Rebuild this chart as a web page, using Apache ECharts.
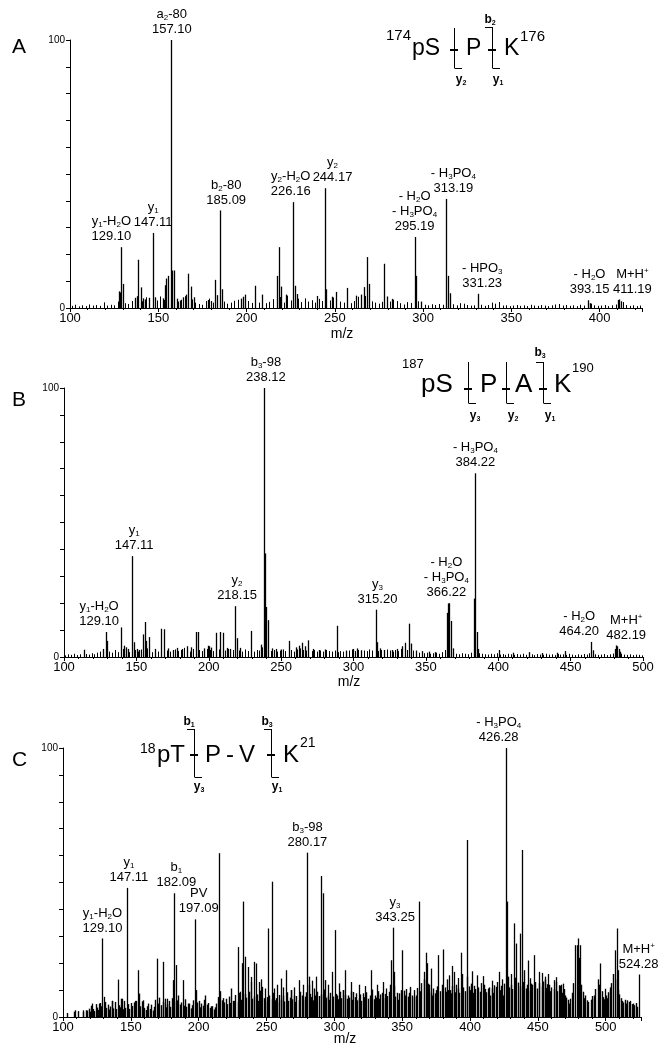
<!DOCTYPE html>
<html>
<head>
<meta charset="utf-8">
<script src="https://cdn.jsdelivr.net/npm/echarts@6/dist/echarts.min.js"></script>
<style>
  html, body { margin: 0; background: #fff; }
  #chart { width: 664px; height: 1050px; }
</style>
</head>
<body>
<div id="chart"></div>
<script>
// ---------- data (m/z, relative intensity %) ----------
// panel A: 174pS-P-K176
const peaksA = [[127.5,6.2],[128.2,5.8],[129.1,22.7],[130.1,9.0],[136.6,3.8],[137.8,4.4],[138.8,18.0],[140.1,7.7],[141.5,3.6],[142.3,3.2],[144.9,3.8],[147.11,28.0],[148.1,4.0],[152.6,3.6],[153.9,8.5],[154.6,11.0],[155.5,12.0],[157.1,100],[158.0,14.0],[158.9,14.0],[160.4,3.5],[162.5,2.8],[164.1,4.0],[165.5,5.0],[166.6,12.8],[168.6,8.0],[170.0,4.0],[178.1,3.0],[179.6,2.6],[182.4,10.5],[183.3,4.8],[185.09,36.4],[186.1,7.0],[196.6,3.5],[197.8,4.2],[199.1,5.0],[204.6,8.3],[208.6,5.0],[217.1,12.0],[218.2,22.7],[219.3,8.0],[222.6,5.0],[226.16,39.5],[227.2,8.3],[228.3,5.2],[240.1,4.5],[244.17,44.7],[245.2,7.0],[248.5,4.2],[250.8,6.0],[256.9,7.5],[262.2,4.6],[264.6,5.0],[266.3,7.8],[268.5,19.0],[269.6,9.0],[278.0,16.5],[279.3,4.3],[282.6,3.4],[295.19,26.5],[296.2,12.0],[298.6,2.4],[313.19,40.7],[314.1,12.0],[315.1,5.5],[331.23,5.3],[393.15,2.9],[394.6,1.8],[410.4,3.0],[411.19,3.2],[412.3,2.5]];
const noiseA = [[101,0.8],[103,1.2],[105,0.6],[107,1.0],[109,0.7],[111,1.3],[113,0.9],[115,1.1],[117,0.8],[119,2.1],[121,0.9],[123,1.2],[125,1.0],[127,2.4],[131,1.8],[133,1.5],[135,2.6],[137,3.2],[141,2.5],[143,4.0],[145,2.2],[149,2.8],[151,4.3],[153,3.0],[159,3.6],[161,2.4],[163,3.1],[165,4.4],[169,3.2],[171,2.0],[173,1.5],[175,1.2],[177,2.6],[179,3.5],[181,2.0],[183,3.0],[187,2.4],[189,1.6],[191,2.0],[193,2.7],[195,3.1],[197,2.2],[199,3.8],[201,2.6],[203,1.9],[205,2.5],[207,2.0],[209,4.8],[211,1.8],[213,2.3],[215,3.3],[219,4.1],[221,2.0],[223,4.6],[225,2.8],[229,3.5],[231,2.2],[233,3.6],[235,2.4],[237,2.9],[239,2.0],[241,3.4],[243,2.6],[247,2.8],[249,3.9],[253,2.4],[255,2.0],[259,1.8],[261,2.6],[263,4.2],[265,3.1],[267,4.5],[271,2.5],[273,2.0],[275,1.6],[277,2.3],[281,2.4],[283,3.1],[285,2.6],[287,1.8],[289,1.3],[291,2.2],[293,1.9],[297,2.5],[299,1.6],[301,1.2],[303,1.0],[305,1.4],[307,1.1],[309,1.5],[311,1.2],[317,1.4],[319,1.0],[321,1.8],[323,1.6],[325,1.1],[327,0.9],[329,1.0],[333,1.2],[335,0.8],[337,1.1],[339,2.0],[341,1.6],[343,2.2],[345,0.9],[347,1.0],[349,0.7],[351,0.9],[353,1.1],[355,0.8],[357,1.0],[359,0.7],[361,1.2],[363,0.9],[365,0.8],[367,1.1],[369,0.9],[371,0.7],[373,1.0],[375,1.3],[377,1.5],[379,0.9],[381,1.1],[383,0.8],[385,1.0],[387,0.7],[389,1.2],[391,0.9],[395,1.6],[397,1.0],[399,0.8],[401,0.9],[403,1.1],[405,0.7],[407,1.0],[409,1.3],[413,2.2],[415,1.1],[417,0.8],[419,1.0],[421,0.7],[423,0.9]];
const labelMzA = [129.10, 147.11, 157.10, 185.09, 226.16, 244.17, 295.19, 313.19, 331.23, 393.15, 411.19];
const labelTextA = ['y{s|1}-H{s|2}O\n129.10', 'y{s|1}\n147.11', 'a{s|2}-80\n157.10', 'b{s|2}-80\n185.09', 'y{s|2}-H{s|2}O\n226.16', 'y{s|2}\n244.17', '- H{s|2}O\n- H{s|3}PO{s|4}\n295.19', '- H{s|3}PO{s|4}\n313.19', '- HPO{s|3}\n331.23', '- H{s|2}O\n393.15', 'M+H{p|+}\n411.19'];

// panel B: 187pS-P-A-K190
const peaksB = [[113.6,2.7],[126.8,3.0],[129.1,9.3],[130.0,6.0],[139.5,11.0],[141.6,4.2],[142.8,3.6],[144.0,3.0],[147.11,37.5],[148.1,5.5],[150.5,3.0],[152.0,2.6],[154.9,8.4],[155.8,13.0],[156.8,6.0],[158.4,7.4],[163.1,3.0],[166.9,10.5],[169.1,10.3],[171.6,3.2],[175.0,2.6],[178.3,3.4],[181.4,3.0],[185.0,4.0],[187.5,3.6],[191.4,9.3],[192.4,9.3],[196.8,3.2],[199.2,4.2],[200.3,4.0],[201.3,3.5],[205.2,9.0],[207.8,9.3],[209.5,9.0],[212.4,3.4],[214.8,3.0],[218.15,18.9],[219.6,7.0],[221.9,3.4],[229.5,9.7],[235.8,4.6],[238.12,100],[238.9,38.5],[239.7,18.6],[240.6,13.7],[243.5,3.2],[246.8,3.0],[249.6,2.8],[255.3,6.0],[260.3,3.6],[262.5,4.2],[264.6,5.3],[266.2,4.0],[268.8,6.2],[272.2,3.0],[276.4,2.6],[280.4,2.8],[288.6,11.6],[295.0,2.4],[299.8,3.0],[302.4,3.2],[305.0,2.5],[315.2,17.6],[316.2,5.5],[318.6,3.2],[321.4,2.6],[326.7,2.6],[330.2,3.0],[333.2,4.0],[335.4,5.3],[338.3,12.4],[339.5,5.0],[343.4,2.4],[347.6,2.2],[352.2,2.0],[356.6,1.8],[364.5,16.4],[365.4,19.9],[366.22,20.0],[367.1,13.4],[368.4,3.2],[383.5,21.7],[384.22,68.3],[385.1,9.3],[386.3,3.0],[400.2,2.6],[410.5,1.6],[421.3,1.8],[430.2,1.5],[440.3,1.6],[446.2,2.2],[464.2,5.6],[465.2,2.5],[480.9,3.0],[481.6,4.3],[482.19,4.0],[483.1,3.0],[484.2,2.0]];
const noiseB = [[101,0.6],[103,1.0],[105,0.8],[107,1.2],[109,0.7],[111,1.0],[115,1.1],[117,0.9],[119,1.4],[121,1.0],[123,1.6],[125,2.0],[127,2.4],[131,2.0],[133,1.6],[135,2.6],[137,1.8],[141,3.0],[143,2.4],[145,1.8],[149,2.6],[151,2.0],[153,2.8],[157,3.2],[159,2.2],[161,1.8],[163,2.4],[165,2.0],[167,2.8],[171,2.4],[173,2.0],[175,1.6],[177,2.8],[179,2.2],[181,2.6],[183,3.4],[185,2.4],[187,2.0],[189,3.0],[193,2.6],[195,2.2],[197,2.8],[199,3.0],[201,2.6],[203,2.2],[207,2.8],[211,2.4],[213,3.0],[215,2.2],[217,2.6],[221,2.4],[223,2.0],[225,2.8],[227,2.2],[231,2.0],[233,2.6],[235,2.4],[237,3.6],[241,2.8],[243,2.2],[245,2.6],[247,2.0],[249,2.4],[251,2.8],[253,2.2],[257,2.6],[259,2.0],[261,2.8],[263,3.2],[265,2.6],[267,2.4],[271,2.2],[273,2.6],[275,2.0],[277,2.4],[279,2.0],[281,2.6],[283,2.2],[285,2.0],[287,2.4],[289,1.8],[291,2.2],[293,2.0],[297,2.4],[299,2.8],[301,2.2],[303,2.6],[305,2.0],[307,2.4],[309,2.2],[311,2.8],[313,2.4],[317,2.2],[319,2.6],[321,2.0],[323,2.8],[325,2.4],[327,2.0],[329,2.6],[331,2.2],[333,3.0],[337,2.6],[341,2.4],[343,2.0],[345,1.6],[347,1.8],[349,1.4],[351,1.6],[353,1.2],[355,1.4],[357,1.6],[359,1.2],[361,1.8],[363,2.6],[369,1.6],[371,1.2],[373,1.0],[375,1.4],[377,1.2],[379,1.0],[381,1.6],[387,1.4],[389,1.2],[391,1.0],[393,0.9],[395,1.2],[397,1.0],[399,1.4],[401,0.9],[403,1.1],[405,0.8],[407,1.2],[409,1.0],[411,0.8],[413,1.1],[415,0.9],[417,1.2],[419,0.8],[423,1.0],[425,0.7],[427,1.1],[429,0.9],[431,0.8],[433,1.2],[435,0.9],[437,1.0],[439,0.7],[441,1.1],[443,0.9],[445,1.0],[447,0.8],[449,1.2],[451,0.9],[453,0.7],[455,1.0],[457,0.8],[459,1.1],[461,0.9],[463,1.4],[467,1.0],[469,0.8],[471,0.9],[473,1.1],[475,0.7],[477,1.0],[479,1.3],[485,1.2],[487,0.9],[489,0.8],[491,1.0],[493,0.7],[495,0.9],[497,0.8],[499,0.6]];
const labelMzB = [129.10, 147.11, 218.15, 238.12, 315.20, 366.22, 384.22, 464.20, 482.19];
const labelTextB = ['y{s|1}-H{s|2}O\n129.10', 'y{s|1}\n147.11', 'y{s|2}\n218.15', 'b{s|3}-98\n238.12', 'y{s|3}\n315.20', '- H{s|2}O\n- H{s|3}PO{s|4}\n366.22', '- H{s|3}PO{s|4}\n384.22', '- H{s|2}O\n464.20', 'M+H{p|+}\n482.19'];

// panel C: 18pT-P-V-K21
const peaksC = [[108.5,2.5],[114.8,2.5],[121.2,5.0],[126.6,5.0],[129.1,29.2],[130.0,7.5],[136.0,6.0],[140.8,13.9],[143.4,6.8],[147.11,48.0],[153.2,6.0],[155.0,17.4],[169.0,21.7],[173.5,20.5],[176.6,6.8],[181.4,13.7],[182.09,46.0],[183.0,19.3],[188.7,13.7],[197.09,36.3],[215.3,60.9],[228.9,26.0],[230.5,9.4],[232.0,20.0],[233.0,42.9],[234.3,22.4],[236.2,18.6],[238.4,14.9],[238.9,13.0],[240.6,20.5],[242.5,19.9],[244.8,13.0],[245.8,14.0],[247.0,11.2],[248.6,10.6],[251.1,32.9],[254.3,50.3],[255.8,10.6],[257.5,12.0],[260.6,14.3],[262.3,11.0],[264.7,17.4],[267.9,10.0],[270.3,11.0],[273.9,13.7],[277.0,12.0],[280.17,61.1],[281.0,15.0],[283.5,13.5],[286.5,15.0],[290.0,52.4],[291.3,46.0],[295.6,12.0],[298.6,16.8],[300.8,32.3],[303.5,12.5],[306.5,10.0],[307.5,17.4],[312.5,13.0],[318.5,12.0],[322.5,11.5],[327.1,17.4],[331.5,12.0],[335.5,13.0],[338.2,10.6],[342.0,21.1],[343.25,33.2],[344.2,16.8],[350.0,24.8],[358.8,10.0],[362.6,42.9],[365.8,16.8],[367.4,23.9],[368.3,20.0],[371.5,18.0],[376.3,23.0],[380.4,25.1],[384.5,15.5],[386.5,19.0],[388.3,16.8],[391.0,14.5],[393.7,23.9],[397.8,65.8],[401.5,17.0],[405.4,15.5],[409.5,15.2],[413.3,10.6],[416.5,13.5],[419.0,11.2],[421.2,16.8],[423.5,14.0],[426.28,100],[427.1,42.9],[430.5,16.0],[432.6,34.8],[434.0,27.3],[436.5,31.0],[438.1,62.1],[442.5,21.0],[444.5,14.4],[447.5,23.0],[450.7,16.8],[452.9,16.4],[455.5,15.0],[457.5,16.0],[461.8,13.7],[463.5,14.8],[465.6,11.8],[468.5,12.4],[477.6,26.7],[478.6,26.7],[479.9,29.2],[481.4,26.7],[489.7,6.8],[496.0,19.9],[499.5,10.5],[503.5,11.0],[507.1,24.8],[508.4,32.9],[509.2,17.4],[524.28,15.8]];
const noiseC = [[103,1.5],[108,2.0],[111,2.2],[115,1.8],[117,2.5],[118,2.4],[119,3.1],[120,2.0],[121,4.2],[122,3.0],[123,2.2],[124,4.8],[125,3.5],[126,2.6],[127,5.2],[128,4.0],[131,5.6],[132,3.4],[133,4.6],[134,2.8],[135,3.9],[136,6.0],[137,3.2],[138,5.6],[139,3.0],[141,4.4],[142,3.6],[143,6.8],[144,2.9],[145,6.0],[146,3.4],[148,4.8],[149,3.0],[150,5.2],[151,4.1],[152,5.4],[153,3.2],[154,6.0],[156,8.7],[157,4.0],[158,5.8],[159,6.2],[160,3.4],[161,2.6],[162,4.0],[163,5.0],[164,3.0],[165,4.6],[166,2.4],[167,3.8],[168,6.4],[170,5.0],[171,7.2],[172,4.4],[174,5.6],[175,6.8],[176,3.6],[177,4.8],[178,6.0],[179,3.8],[180,7.0],[183.5,5.8],[184,6.2],[185,8.0],[186,4.6],[187,5.4],[189,4.2],[190,6.6],[191,3.8],[192,5.0],[193,5.0],[194,3.2],[195,4.4],[196,6.2],[198,10.0],[199,5.4],[200,6.0],[201,3.6],[202,5.0],[203,4.2],[204,6.4],[205,8.0],[206,4.6],[207,5.2],[208,3.4],[209,4.0],[210,4.0],[211,2.8],[212,3.6],[213,5.0],[214,7.4],[216,9.6],[217,6.2],[218,7.0],[219,5.4],[220,6.8],[221,4.8],[222,7.6],[223,5.2],[224,10.6],[225,6.0],[226,6.0],[227,8.2],[229,5.6],[230,9.0],[231,6.4],[233.8,8.6],[235,7.2],[237,9.4],[239,6.8],[241,7.6],[243,8.4],[244,6.0],[245,9.8],[246,6.6],[248,7.0],[249,5.8],[250,7.4],[252,8.0],[254,6.6],[255,9.0],[256,6.2],[257,7.0],[258,5.4],[259,8.2],[261,6.4],[262,8.0],[263,5.8],[265,9.2],[266,6.0],[267,7.2],[268,10.0],[269,6.6],[270,8.0],[271,5.6],[272,7.8],[274,6.2],[275,9.4],[276,8.0],[277,6.4],[278,7.6],[279,9.2],[281,12.0],[282,8.6],[283,7.4],[284,6.2],[285,10.6],[286,8.0],[287,9.4],[289,7.8],[290,8.4],[292,10.2],[293,13.7],[294,7.2],[295,8.0],[296,6.4],[297,9.0],[299,7.6],[301,8.6],[302,8.0],[303,6.6],[304,9.4],[305,7.0],[306,10.0],[308,8.2],[309,6.8],[310,8.0],[311,7.2],[312,9.6],[313,6.4],[314,9.3],[315,7.4],[316,8.8],[317,6.2],[318,7.0],[319,8.4],[320,6.0],[321,8.8],[322,7.4],[323,9.2],[325,6.8],[326,8.0],[327,7.6],[328,10.2],[329,6.6],[330,8.0],[331,7.2],[332,9.6],[333,6.8],[334,8.4],[335,9.0],[336,7.0],[337,8.6],[339,7.8],[340,9.4],[341,12.0],[344,11.6],[345,7.6],[346,9.0],[347,6.4],[348,8.8],[349,10.0],[351,9.8],[352,8.0],[353,10.4],[354,7.6],[355,9.0],[356,11.2],[357,8.0],[359,7.4],[360,8.0],[361,10.8],[363,9.6],[364,12.6],[366,14.0],[369,12.4],[370,12.0],[371,9.0],[372,8.0],[373,10.6],[374,8.8],[375,10.0],[376,11.4],[378,9.6],[379,12.0],[381.8,11.0],[382,9.4],[383,14.0],[384,10.0],[385,10.0],[386,8.8],[387,11.6],[389,9.2],[390,12.0],[391,10.6],[392,9.0],[394,16.0],[395,11.0],[396,9.6],[398,15.0],[399,11.4],[400,10.0],[401,12.4],[402,9.0],[403,11.6],[404,10.4],[406,11.0],[407,9.4],[408,12.6],[410,12.0],[411,10.4],[412,9.2],[414,11.0],[415,8.0],[416,10.6],[417,9.0],[418,11.8],[420,13.0],[422,10.0],[423,11.6],[424,8.0],[425,12.4],[428,15.0],[429,11.0],[430,12.0],[431,10.4],[433,14.6],[435,12.8],[437,11.4],[439,13.0],[440,17.4],[441,10.6],[442,12.0],[443,9.8],[445,12.4],[446,12.0],[448,13.0],[449,10.6],[451,12.6],[453,11.4],[454,13.2],[455,14.0],[456,10.8],[457,12.2],[458,12.0],[459,9.6],[460,11.0],[462,10.4],[463,13.0],[464,9.6],[466,11.6],[467,12.0],[468,9.0],[469,10.4],[470,8.0],[471,7.2],[472,6.4],[473,5.0],[474,6.8],[475,9.0],[476,12.6],[480.6,22.0],[482,12.0],[483,9.4],[484,7.0],[485,8.0],[486,6.2],[487,5.6],[489,6.4],[490,7.8],[491,8.0],[492,10.4],[494,14.0],[495,12.0],[497,9.6],[498,7.4],[499,6.6],[500,8.0],[501,7.0],[502,9.2],[503,10.0],[504,12.6],[505,16.0],[508,14.0],[509,10.0],[510,8.4],[511,7.0],[512,6.0],[513,5.4],[514,6.4],[515,5.0],[516,6.2],[517,5.6],[518,6.0],[519,4.8],[520,5.0],[521,4.4],[522,5.2],[523,3.8]];
const labelMzC = [129.10, 147.11, 182.09, 197.09, 280.17, 343.25, 426.28, 524.28];
const labelTextC = ['y{s|1}-H{s|2}O\n129.10', 'y{s|1}\n147.11', 'b{s|1}\n182.09', 'PV\n197.09', 'b{s|3}-98\n280.17', 'y{s|3}\n343.25', '- H{s|3}PO{s|4}\n426.28', 'M+H{p|+}\n524.28'];

const mzMax = [424, 500, 526];

// ---------- drawing ----------
const FONT = "'Liberation Sans', Arial, sans-serif";
const rich = {
  s: { fontSize: 8, lineHeight: 8, verticalAlign: 'bottom', fontFamily: FONT },
  p: { fontSize: 8, lineHeight: 8, verticalAlign: 'top', fontFamily: FONT }
};

function peakAt(peaks, mz) {
  let best = peaks[0];
  peaks.forEach(p => { if (Math.abs(p[0] - mz) < Math.abs(best[0] - mz)) best = p; });
  return best[1];
}

function stick(width) {
  return function (params, api) {
    const top = api.coord([api.value(0), api.value(1)]);
    const base = api.coord([api.value(0), 0]);
    const x = Math.round(top[0]) + 0.5;
    return { type: 'line', shape: { x1: x, y1: base[1], x2: x, y2: top[1] },
      style: { stroke: '#000', lineWidth: width } };
  };
}

function peakLabels(texts, shifts) {
  return function (params, api) {
    const i = api.value(2);
    const p = api.coord([api.value(0), api.value(1)]);
    return { type: 'text', x: p[0] + (shifts[i] || 0), y: p[1] - 3,
      style: { text: texts[i], rich: rich, fontSize: 13, lineHeight: 15, fontFamily: FONT,
        fill: '#000', align: 'center', verticalAlign: 'bottom' } };
  };
}

const grids = [
  { left: 70, top: 40, width: 572, height: 268 },
  { left: 64, top: 388, width: 579, height: 269 },
  { left: 63, top: 748, width: 578, height: 269 }
];

const xAxes = grids.map((g, i) => ({
  type: 'value', gridIndex: i, min: 100, max: mzMax[i], interval: 50,
  axisLine: { onZero: false, lineStyle: { color: '#000', width: 1 } },
  axisTick: { length: 4, lineStyle: { color: '#000' } },
  minorTick: { show: true, splitNumber: 5, length: 2, lineStyle: { color: '#000' } },
  axisLabel: { color: '#000', fontSize: 13, fontFamily: FONT, margin: 4,
    formatter: v => (v % 50 === 0 ? String(v) : '') },
  splitLine: { show: false }
}));

const yAxes = grids.map((g, i) => ({
  type: 'value', gridIndex: i, min: 0, max: 100, interval: 10,
  axisLine: { show: true, lineStyle: { color: '#000', width: 1 } },
  axisTick: { show: true, length: 4, lineStyle: { color: '#000' } },
  axisLabel: { color: '#000', fontSize: 10, fontFamily: FONT, margin: 5,
    formatter: v => (v === 0 || v === 100 ? String(v) : '') },
  splitLine: { show: false }
}));

// horizontal nudges of the peak labels, as placed in the figure
const panels = [
  { peaks: peaksA, noise: noiseA, mz: labelMzA, text: labelTextA, noiseW: 1, peakW: 1.3,
    shift: [-10, 0, 1, 6, -2, 8, 0, 7, 4, 2, 13] },
  { peaks: peaksB, noise: noiseB, mz: labelMzB, text: labelTextB, noiseW: 1, peakW: 1.3,
    shift: [-7, 2, 2, 2, 2, -3, 0, -12, 9] },
  { peaks: peaksC, noise: noiseC, mz: labelMzC, text: labelTextC, noiseW: 1.4, peakW: 1.3,
    shift: [0, 2, 2, 4, 0, 2, -7, 0] }
];

const series = [];
panels.forEach((p, i) => {
  series.push({ type: 'custom', xAxisIndex: i, yAxisIndex: i, renderItem: stick(p.noiseW), data: p.noise, silent: true });
  series.push({ type: 'custom', xAxisIndex: i, yAxisIndex: i, renderItem: stick(p.peakW), data: p.peaks, silent: true });
  series.push({ type: 'custom', xAxisIndex: i, yAxisIndex: i, renderItem: peakLabels(p.text, p.shift),
    data: p.mz.map((m, k) => [m, peakAt(p.peaks, m), k]), silent: true });
});

// ---------- annotations: panel letters, axis names, peptide schemes ----------
function txt(x, y, text, size, extra) {
  return { type: 'text', x: x, y: y, silent: true,
    style: Object.assign({ text: text, fontSize: size, fontFamily: FONT, fill: '#000',
      align: 'left', verticalAlign: 'middle' }, extra || {}) };
}
function seg(x1, y1, x2, y2, w) {
  return { type: 'line', silent: true, shape: { x1: x1, y1: y1, x2: x2, y2: y2 },
    style: { stroke: '#000', lineWidth: w || 1 } };
}
const boldRich = { s: { fontSize: 7, lineHeight: 7, fontWeight: 'bold', verticalAlign: 'bottom', fontFamily: FONT } };
function ion(x, y, name, n) {
  return txt(x, y, name + '{s|' + n + '}', 12, { align: 'center', fontWeight: 'bold', lineHeight: 13, rich: boldRich });
}
// a cleavage mark: vertical bar, bond dash, bottom hook (y ion) and optional top hook (b ion)
function cleave(x, yTop, yBot, yDash, withB) {
  const out = [seg(x + 0.5, yTop, x + 0.5, yBot), seg(x + 0.5, yBot + 0.5, x + 8, yBot + 0.5),
    seg(x - 4, yDash, x + 4, yDash, 2)];
  if (withB) out.push(seg(x - 7, yTop + 0.5, x + 0.5, yTop + 0.5));
  return out;
}

const graphic = [
  txt(12, 47, 'A', 21), txt(12, 400, 'B', 21), txt(12, 760, 'C', 21),
  txt(342, 334, 'm/z', 14, { align: 'center' }),
  txt(349, 682, 'm/z', 14, { align: 'center' }),
  txt(345, 1039, 'm/z', 14, { align: 'center' }),

  // A: 174pS - P - K176
  txt(386, 36, '174', 15), txt(412, 49, 'pS', 23), txt(466, 49, 'P', 23),
  txt(504, 49, 'K', 23), txt(520, 37, '176', 15),
  ...cleave(454, 28, 68, 50, false), ...cleave(492, 27, 68, 50, true),
  ion(490, 20, 'b', 2), ion(461, 80, 'y', 2), ion(498, 80, 'y', 1),

  // B: 187pS - P - A - K190
  txt(402, 364, '187', 13), txt(421, 385, 'pS', 26), txt(480, 385, 'P', 26),
  txt(515, 385, 'A', 26), txt(554, 385, 'K', 26), txt(572, 368, '190', 13),
  ...cleave(468, 362, 403, 389, false), ...cleave(506, 362, 403, 389, false), ...cleave(543, 362, 403, 389, true),
  ion(540, 353, 'b', 3), ion(475, 416, 'y', 3), ion(513, 416, 'y', 2), ion(550, 416, 'y', 1),

  // C: 18pT - P - V - K21
  txt(140, 749, '18', 14), txt(157, 755, 'pT', 24), txt(205, 755, 'P', 24),
  txt(226, 755, '-', 24), txt(239, 755, 'V', 24), txt(283, 755, 'K', 24), txt(300, 743, '21', 14),
  ...cleave(194, 729, 777, 755, true), ...cleave(271, 729, 777, 755, true),
  ion(189, 722, 'b', 1), ion(199, 787, 'y', 3), ion(267, 722, 'b', 3), ion(277, 787, 'y', 1)
];

const chart = echarts.init(document.getElementById('chart'), null, { renderer: 'canvas' });
chart.setOption({
  animation: false,
  backgroundColor: '#fff',
  grid: grids.map(g => Object.assign({ outerBoundsMode: 'none' }, g)),
  xAxis: xAxes,
  yAxis: yAxes,
  series: series,
  graphic: graphic
});
</script>
</body>
</html>
